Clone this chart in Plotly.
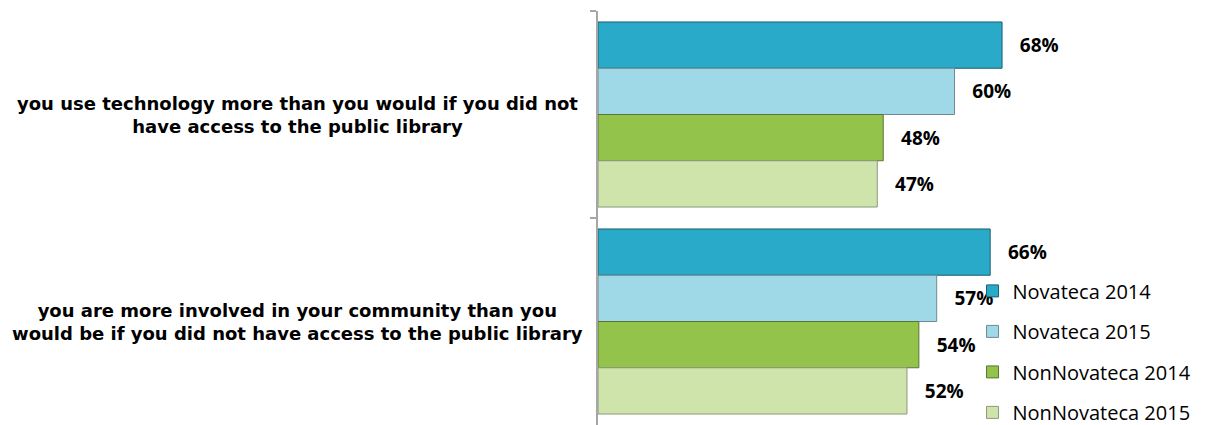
import plotly.graph_objects as go

categories = [
    "you use technology more than you would if you did not<br>have access to the public library",
    "you are more involved in your community than you<br>would be if you did not have access to the public library",
]
series_names = ["Novateca 2014", "Novateca 2015", "NonNovateca 2014", "NonNovateca 2015"]
values = {
    "Novateca 2014": [68, 66],
    "Novateca 2015": [60, 57],
    "NonNovateca 2014": [48, 54],
    "NonNovateca 2015": [47, 52],
}
fill_colors = {
    "Novateca 2014": "#28AAC8",
    "Novateca 2015": "#9FD8E6",
    "NonNovateca 2014": "#93C34B",
    "NonNovateca 2015": "#CEE4AA",
}
line_colors = {
    "Novateca 2014": "#1E5F6E",
    "Novateca 2015": "#6F8A92",
    "NonNovateca 2014": "#5B7436",
    "NonNovateca 2015": "#8C9880",
}

fig = go.Figure()
for name in series_names:
    fig.add_trace(go.Bar(
        name=name,
        legendgroup=name,
        y=categories,
        x=values[name],
        orientation="h",
        marker=dict(color=fill_colors[name], line=dict(color=line_colors[name], width=1)),
        text=values[name],
        texttemplate="\u00a0\u00a0\u00a0%{x}%",
        textposition="outside",
        cliponaxis=False,
        constraintext="none",
        textfont=dict(family="Open Sans", size=19, color="black", weight="bold"),
        hoverinfo="skip",
    ))

for cat in categories:
    fig.add_annotation(
        x=-0.488, xref="paper", y=cat, yref="y",
        text=cat, showarrow=False, xanchor="center", yanchor="middle", align="center",
        font=dict(family="DejaVu Sans", size=18, color="black", weight="bold"),
    )

fig.update_layout(
    width=1213, height=425,
    margin=dict(l=598, r=0, t=11, b=0, autoexpand=False),
    paper_bgcolor="white", plot_bgcolor="white",
    barmode="group", bargap=0.106, bargroupgap=0,
    showlegend=True,
    legend=dict(
        x=0.609, xanchor="left", y=0.371, yanchor="top",
        traceorder="grouped", tracegroupgap=11.5,
        font=dict(family="Open Sans", size=20, color="black"),
        bgcolor="rgba(0,0,0,0)", borderwidth=0,
    ),
    xaxis=dict(range=[0, 103.5], visible=False, showgrid=False, zeroline=False),
    yaxis=dict(
        autorange="reversed", showticklabels=False, showgrid=False, zeroline=False,
        showline=True, linecolor="#A6A6A6", linewidth=2,
        ticks="outside", tickson="boundaries", ticklen=6, tickcolor="#A6A6A6", tickwidth=2,
    ),
)

fig.write_html(
    "out.html",
    config={"displayModeBar": False},
    post_script="document.body.style.margin='0';document.body.style.overflow='hidden';",
)
